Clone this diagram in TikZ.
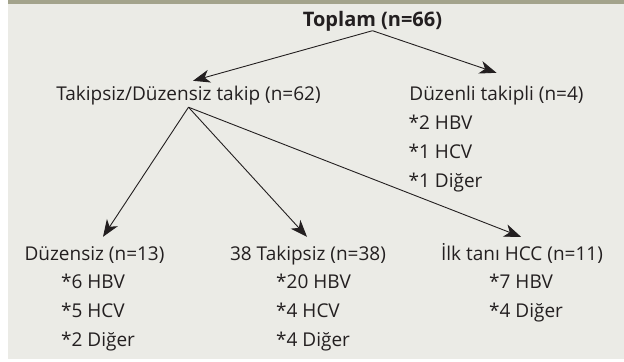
\documentclass[tikz,border=0pt]{standalone}
\usepackage{fontspec}
\setmainfont{Open Sans}
\usepackage{xcolor}
\usetikzlibrary{arrows.meta}

\definecolor{boxfill}{HTML}{EBEBE6}
\definecolor{boxbar}{HTML}{A3A38C}
\definecolor{ink}{HTML}{231F20}

\tikzset{
	label text/.style = {inner sep = 0, text height = 14bp, text depth = 4.5bp, text = ink, font = \fontsize{19bp}{29bp}\selectfont},
	sub text/.style = {label text, anchor = base west},
	branch/.style = {draw = ink, line width = 0.9bp, -{Stealth[length = 17bp, width = 13bp, inset = 5bp]}}
}

\begin{document}
\begin{tikzpicture}[x = 1bp, y = -1bp]
					\useasboundingbox (0,0) rectangle (624,361);

					\begin{scope}
						\fill [boxfill] (7.5,0) rectangle (624,358.5);
						\fill [boxbar] (7.5,0) rectangle (624,3.5);
					\end{scope}

					\begin{scope}
						\node [label text, anchor = base, font = \fontsize{20bp}{29bp}\selectfont\bfseries] (toplam) at (372.5,26) {Toplam (n=66)};
						\node [label text, anchor = base] (takip) at (188.5,100) {Takipsiz/Düzensiz takip (n=62)};
						\node [label text, anchor = base] (duzenli) at (496.5,100) {Düzenli takipli (n=4)};
						\node [label text, anchor = base] (duzensiz) at (94.5,260) {Düzensiz (n=13)};
						\node [label text, anchor = base] (takipsiz) at (308,260) {38 Takipsiz (n=38)};
						\node [label text, anchor = base] (hcc) at (522,260) {İlk tanı HCC (n=11)};
					\end{scope}

					\begin{scope}
						\foreach \t [count = \i] in {*2 HBV, *1 HCV, *1 Diğer}
						{
							\node [sub text] (duzenli\i) at (408.5,100 + 29*\i) {\t};
						}

						\foreach \t [count = \i] in {*6 HBV, *5 HCV, *2 Diğer}
						{
							\node [sub text] (duzensiz\i) at (61,259 + 29*\i) {\t};
						}

						\foreach \t [count = \i] in {*20 HBV, *4 HCV, *4 Diğer}
						{
							\node [sub text] (takipsiz\i) at (276,259 + 29*\i) {\t};
						}

						\foreach \t [count = \i] in {*7 HBV, *4 Diğer}
						{
							\node [sub text] (hcc\i) at (489,259 + 29*\i) {\t};
						}
					\end{scope}

					\coordinate (fan) at ([yshift = -2.5bp]takip.south);

					\begin{scope}
						\draw [branch] (toplam.south) -- ([xshift = 4.5bp, yshift = 5bp]takip.north);
						\draw [branch] (toplam.south) -- ([yshift = 13bp]duzenli.north);
						\draw [branch] (fan) -- ([xshift = 8.5bp, yshift = 9bp]duzensiz.north);
						\draw [branch] (fan) -- ([xshift = -1bp, yshift = 9bp]takipsiz.north);
						\draw [branch] (fan) -- ([xshift = -1bp, yshift = 9bp]hcc.north);
					\end{scope}
				\end{tikzpicture}
\end{document}
